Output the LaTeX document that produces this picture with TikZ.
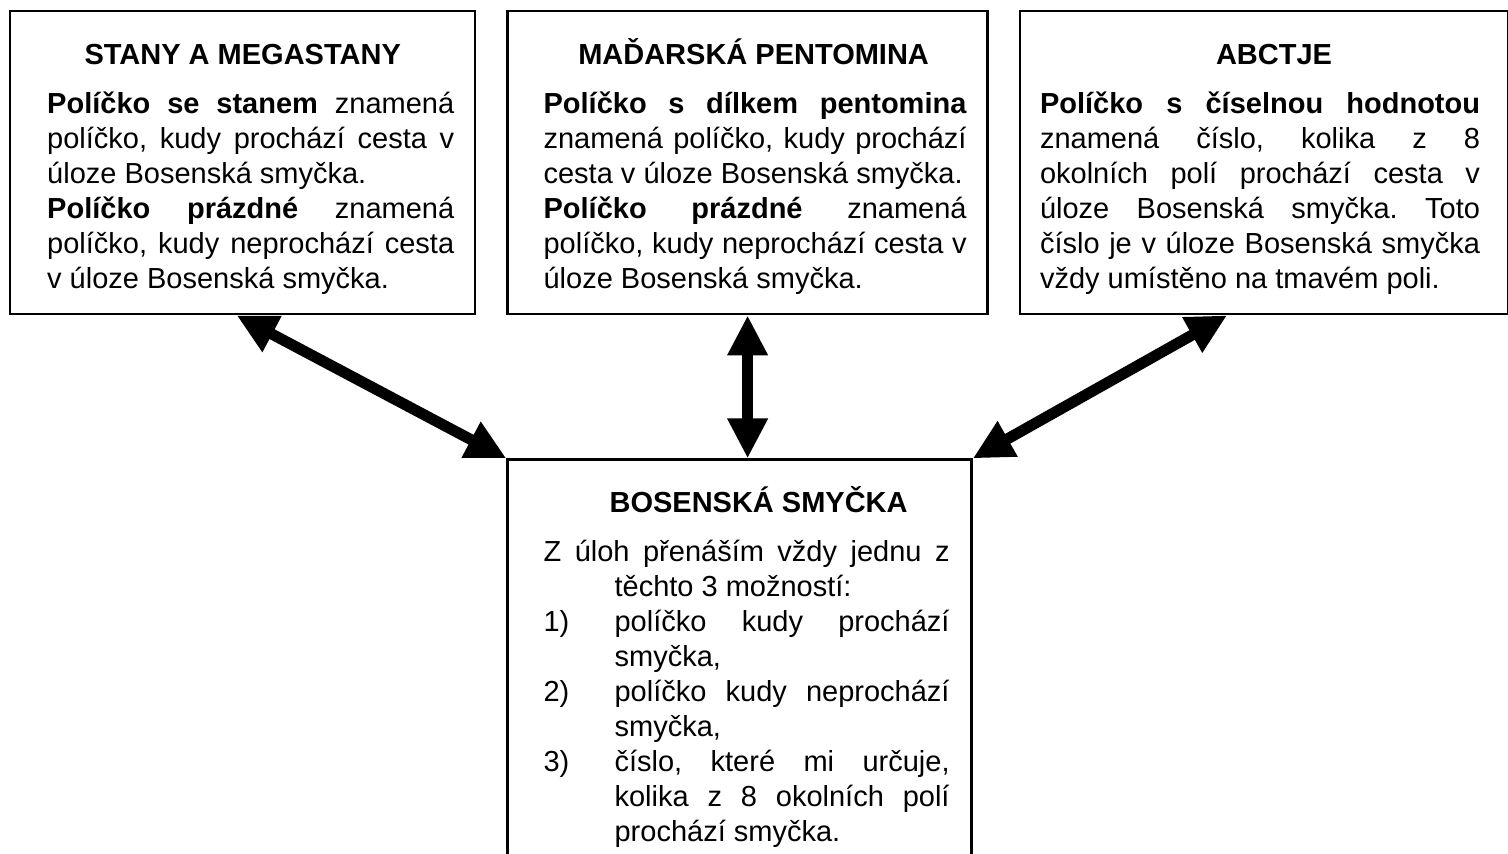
\documentclass[tikz,border=0pt]{standalone}
\usepackage{fontspec}
\setmainfont{Liberation Sans}
\usetikzlibrary{arrows.meta,positioning}
\tolerance=10000
\hyphenpenalty=10000
\hbadness=10000
\frenchspacing
% title line of a panel: shift, text
\newcommand{\paneltitle}[2]{\hbox to\hsize{\vrule height 26.5pt depth 0pt width 0pt\hfil\kern#1\bfseries #2\hfil}\vspace{7pt}}
% numbered line with hanging indent
\newcommand{\numitem}[1]{\par\hangindent=35.5pt\hangafter=1\noindent\hbox to 35.5pt{#1\hfil}}
\tikzset{
  panel/.style={rectangle, draw, line width=1.2pt, inner sep=0pt,
                font=\fontsize{14.5}{17.5}\selectfont},
  arr/.style={{Triangle[length=20pt,width=19pt]}-{Triangle[length=20pt,width=19pt]},
              line width=5.5pt},
}
\begin{document}
\begin{tikzpicture}
  \useasboundingbox (0,0) rectangle (754pt,-426.5pt);
  \node[panel, anchor=north west] (stany) at (4.5pt,-5pt)
    {\parbox[c][151.5pt][t]{232.5pt}{\leftskip=18.5pt\rightskip=10.5pt
     \paneltitle{0pt}{STANY A MEGASTANY}
     \textbf{Políčko se stanem} znamená\linebreak políčko, kudy prochází cesta v\linebreak úloze Bosenská smyčka.\par
     \textbf{Políčko prázdné} znamená\linebreak políčko, kudy neprochází cesta\linebreak v úloze Bosenská smyčka.}};
  \node[panel, right=15pt of stany] (madar)
    {\parbox[c][151.5pt][t]{240pt}{\leftskip=18pt\rightskip=10.5pt
     \paneltitle{6pt}{MAĎARSKÁ PENTOMINA}
     \textbf{Políčko s dílkem pentomina}\linebreak znamená políčko, kudy prochází\linebreak cesta v úloze Bosenská smyčka.\par
     \textbf{Políčko prázdné} znamená\linebreak políčko, kudy neprochází cesta v\linebreak úloze Bosenská smyčka.}};
  \node[panel, right=15pt of madar] (abc)
    {\parbox[c][151.5pt][t]{244pt}{\leftskip=10pt\rightskip=14pt
     \paneltitle{10pt}{ABCTJE}
     \textbf{Políčko s číselnou hodnotou}\linebreak znamená číslo, kolika z 8\linebreak okolních polí prochází cesta v\linebreak úloze Bosenská smyčka. Toto\linebreak číslo je v úloze Bosenská smyčka\linebreak vždy umístěno na tmavém poli.}};
  \node[panel, below=71.5pt of madar.south west, anchor=north west] (bos)
    {\parbox[c][210pt][t]{232pt}{\leftskip=18pt\rightskip=11pt
     \paneltitle{19pt}{BOSENSKÁ SMYČKA}
     \hangindent=35.5pt\hangafter=1\noindent Z úloh přenáším vždy jednu z\linebreak těchto 3 možností:
     \numitem{1)}políčko kudy prochází\linebreak smyčka,
     \numitem{2)}políčko kudy neprochází\linebreak smyčka,
     \numitem{3)}číslo, které mi určuje,\linebreak kolika z 8 okolních polí\linebreak prochází smyčka.\par}};
  \draw[arr] ([xshift=-3pt]stany.south) -- (bos.north west);
  \draw[arr] (madar.south) -- (madar.south |- bos.north);
  \draw[arr] ([xshift=-18.5pt]abc.south) -- (bos.north east);
\end{tikzpicture}
\end{document}
